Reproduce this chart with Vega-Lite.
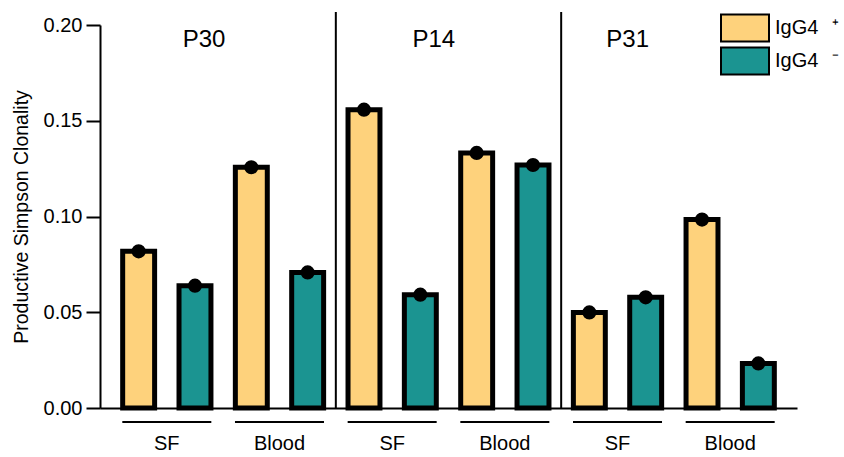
{
  "$schema": "https://vega.github.io/schema/vega-lite/v6.json",
  "width": 697,
  "height": 383,
  "autosize": {"type": "none"},
  "padding": {"left": 100, "top": 25, "right": 47, "bottom": 49},
  "background": "white",
  "config": {"view": {"stroke": null}, "font": "Liberation Sans"},
  "datasets": {
    "bars": [
      {"patient": "P30", "tissue": "SF", "igg4": "+", "key": "P30 SF +", "value": 0.0818},
      {"patient": "P30", "tissue": "SF", "igg4": "-", "key": "P30 SF -", "value": 0.0639},
      {"patient": "P30", "tissue": "Blood", "igg4": "+", "key": "P30 Blood +", "value": 0.1257},
      {"patient": "P30", "tissue": "Blood", "igg4": "-", "key": "P30 Blood -", "value": 0.0708},
      {"patient": "P14", "tissue": "SF", "igg4": "+", "key": "P14 SF +", "value": 0.1558},
      {"patient": "P14", "tissue": "SF", "igg4": "-", "key": "P14 SF -", "value": 0.0592},
      {"patient": "P14", "tissue": "Blood", "igg4": "+", "key": "P14 Blood +", "value": 0.1332},
      {"patient": "P14", "tissue": "Blood", "igg4": "-", "key": "P14 Blood -", "value": 0.1269},
      {"patient": "P31", "tissue": "SF", "igg4": "+", "key": "P31 SF +", "value": 0.0499},
      {"patient": "P31", "tissue": "SF", "igg4": "-", "key": "P31 SF -", "value": 0.0578},
      {"patient": "P31", "tissue": "Blood", "igg4": "+", "key": "P31 Blood +", "value": 0.0984},
      {"patient": "P31", "tissue": "Blood", "igg4": "-", "key": "P31 Blood -", "value": 0.0233}
    ],
    "groups": [
      {"patient": "P30", "tissue": "SF", "first": "P30 SF +", "second": "P30 SF -"},
      {"patient": "P30", "tissue": "Blood", "first": "P30 Blood +", "second": "P30 Blood -"},
      {"patient": "P14", "tissue": "SF", "first": "P14 SF +", "second": "P14 SF -"},
      {"patient": "P14", "tissue": "Blood", "first": "P14 Blood +", "second": "P14 Blood -"},
      {"patient": "P31", "tissue": "SF", "first": "P31 SF +", "second": "P31 SF -"},
      {"patient": "P31", "tissue": "Blood", "first": "P31 Blood +", "second": "P31 Blood -"}
    ],
    "dividers": [
      {"key": "P14 SF +"},
      {"key": "P31 SF +"}
    ]
  },
  "layer": [
    {
      "data": {"name": "bars"},
      "mark": {"type": "bar", "width": {"band": 0.567}, "stroke": "black", "strokeWidth": 5},
      "encoding": {
        "x": {
          "field": "key", "type": "nominal",
          "scale": {
            "domain": ["P30 SF +", "P30 SF -", "P30 Blood +", "P30 Blood -", "P14 SF +", "P14 SF -", "P14 Blood +", "P14 Blood -", "P31 SF +", "P31 SF -", "P31 Blood +", "P31 Blood -"],
            "paddingInner": 0, "paddingOuter": 0.186
          },
          "axis": {"title": null, "labels": false, "ticks": false, "domain": true, "domainColor": "black", "domainWidth": 2, "grid": false}
        },
        "y": {
          "field": "value", "type": "quantitative",
          "scale": {"domain": [0, 0.2], "nice": false, "zero": true},
          "axis": {
            "title": "Productive Simpson Clonality", "titleFontSize": 19.5, "titleFontWeight": "normal", "titleColor": "black", "titlePadding": 12,
            "values": [0, 0.05, 0.1, 0.15, 0.2], "format": ".2f",
            "labelFontSize": 20, "labelColor": "black", "labelPadding": 4,
            "tickSize": 14, "tickWidth": 2, "tickColor": "black",
            "domainColor": "black", "domainWidth": 2, "grid": false
          }
        },
        "fill": {
          "field": "igg4", "type": "nominal",
          "scale": {"domain": ["+", "-"], "range": ["#FED27C", "#1B9491"]},
          "legend": {
            "title": null, "orient": "none", "legendX": 619, "legendY": -12,
            "symbolType": "M-0.9259,-1L2.6296,-1L2.6296,1L-0.9259,1Z", "symbolSize": 729,
            "symbolStrokeColor": "black", "symbolStrokeWidth": 2, "symbolOpacity": 1,
            "labelExpr": "datum.label == '+' ? 'IgG4\u2002\u2009\u207a' : 'IgG4\u2002\u2009\u207b'",
            "labelFontSize": 20, "labelColor": "black", "labelOffset": 27,
            "clipHeight": 30, "rowPadding": 3
          }
        }
      }
    },
    {
      "data": {"name": "bars"},
      "mark": {"type": "circle", "size": 200, "color": "black", "opacity": 1},
      "encoding": {
        "x": {"field": "key", "type": "nominal"},
        "y": {"field": "value", "type": "quantitative"}
      }
    },
    {
      "data": {"name": "dividers"},
      "mark": {"type": "rule", "color": "black", "strokeWidth": 2},
      "encoding": {
        "x": {"field": "key", "type": "nominal", "bandPosition": 0},
        "y": {"datum": 0},
        "y2": {"datum": 0.2068}
      }
    },
    {
      "data": {"name": "groups"},
      "mark": {"type": "rule", "color": "black", "strokeWidth": 2},
      "encoding": {
        "x": {"field": "first", "type": "nominal", "bandPosition": 0.21},
        "x2": {"field": "second", "bandPosition": 0.79},
        "y": {"datum": -0.0073}
      }
    },
    {
      "data": {"name": "groups"},
      "mark": {"type": "text", "fontSize": 20, "color": "black", "baseline": "alphabetic", "align": "center"},
      "encoding": {
        "x": {"field": "second", "type": "nominal", "bandPosition": 0},
        "y": {"datum": -0.0218},
        "text": {"field": "tissue"}
      }
    },
    {
      "data": {"values": [{"patient": "P30", "anchor": "P30 SF -"}]},
      "mark": {"type": "text", "fontSize": 24, "color": "black", "baseline": "alphabetic", "align": "center"},
      "encoding": {
        "x": {"field": "anchor", "type": "nominal", "bandPosition": 0.66},
        "y": {"datum": 0.1887},
        "text": {"field": "patient"}
      }
    },
    {
      "data": {"values": [{"patient": "P14", "anchor": "P14 SF -"}]},
      "mark": {"type": "text", "fontSize": 24, "color": "black", "baseline": "alphabetic", "align": "center"},
      "encoding": {
        "x": {"field": "anchor", "type": "nominal", "bandPosition": 0.74},
        "y": {"datum": 0.1887},
        "text": {"field": "patient"}
      }
    },
    {
      "data": {"values": [{"patient": "P31", "anchor": "P31 SF -"}]},
      "mark": {"type": "text", "fontSize": 24, "color": "black", "baseline": "alphabetic", "align": "center"},
      "encoding": {
        "x": {"field": "anchor", "type": "nominal", "bandPosition": 0.18},
        "y": {"datum": 0.1887},
        "text": {"field": "patient"}
      }
    }
  ]
}
